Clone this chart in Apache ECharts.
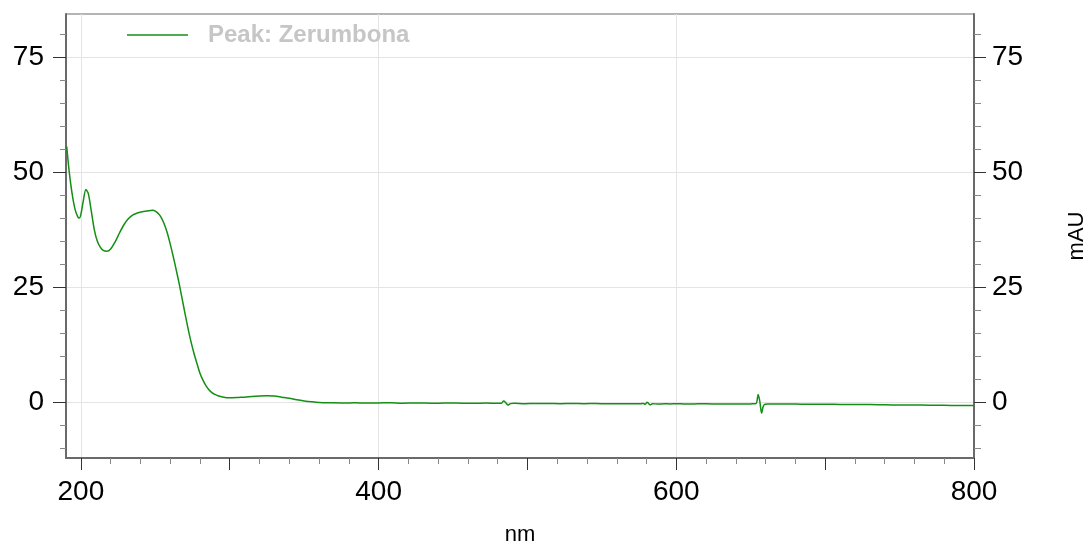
<!DOCTYPE html>
<html>
<head>
<meta charset="utf-8">
<script src="https://cdn.jsdelivr.net/npm/echarts@6/dist/echarts.min.js"></script>
<style>
  html, body { margin: 0; padding: 0; background: #ffffff; }
  #chart { width: 1092px; height: 544px; }
</style>
</head>
<body>
<div id="chart"></div>
<script>
// UV-Vis spectrum of the Zerumbona peak (wavelength in nm, absorbance in mAU)
const wavelengthNm = [
  190.5, 192, 194, 196, 198, 199, 200, 201.5, 203.4, 205, 207, 209, 211, 213, 215, 217.5,
  220, 223, 226, 229, 232, 235, 238, 242, 246, 248.5, 250, 252, 254, 256, 258, 260,
  262, 264, 266, 268, 270, 272, 274, 276, 278, 280, 282, 284, 286, 288, 290, 292, 295,
  298, 302, 306, 310, 315, 320, 325, 330, 335, 340, 345, 350, 355, 360, 368, 376,
  384, 392, 400, 408, 416, 424, 432, 440, 448, 456, 464, 472, 480, 482.5, 484, 485.5,
  487, 488.5, 491, 498, 506, 514, 522, 530, 538, 546, 554, 562, 570, 576, 578, 579,
  580.5, 582.4, 584, 588, 592, 596, 600, 606, 612, 620, 628, 636, 644, 650, 653.5, 655,
  656.2, 657.3, 658.3, 659.5, 662, 670, 680, 690, 700, 710, 720, 730, 740, 750, 760, 770,
  780, 790, 800
];
const absorbanceMau = [
  55.5, 50.5, 45.5, 42.0, 40.2, 40.0, 40.8, 43.5, 46.2, 45.3, 41.5, 37.5, 35.0, 33.7, 33.0, 32.8,
  33.3, 34.8, 36.8, 38.6, 39.9, 40.7, 41.1, 41.4, 41.6, 41.7, 41.5, 41.0, 40.1, 38.7, 36.8, 34.4,
  31.7, 28.8, 25.8, 22.5, 19.2, 16.0, 13.1, 10.6, 8.4, 6.3, 4.8, 3.6, 2.7, 2.1, 1.7, 1.4, 1.15,
  1.0, 1.0, 1.05, 1.1, 1.25, 1.35, 1.4, 1.35, 1.1, 0.85, 0.55, 0.3, 0.1, -0.05, -0.12, -0.15,
  -0.12, -0.18, -0.15, -0.1, -0.2, -0.15, -0.18, -0.22, -0.15, -0.2, -0.22, -0.18, -0.22, -0.2, 0.25, -0.1,
  -0.6, -0.3, -0.22, -0.3, -0.25, -0.28, -0.3, -0.27, -0.3, -0.28, -0.32, -0.3, -0.3, -0.32, -0.25, -0.45,
  0.0, -0.55, -0.3, -0.4, -0.3, -0.35, -0.3, -0.38, -0.35, -0.3, -0.4, -0.35, -0.38, -0.35, -0.3, 1.7,
  0.0, -2.4, -1.0, -0.45, -0.4, -0.38, -0.4, -0.45, -0.42, -0.48, -0.5, -0.5, -0.55, -0.58, -0.6, -0.62,
  -0.65, -0.7, -0.72
];

// Tick positions (nm)
const xLabelTicks = [200, 400, 600, 800];
const xMidTicks = [300, 500, 700];
const xMinorTicks = [220, 240, 260, 280, 320, 340, 360, 380, 420, 440, 460, 480, 520, 540, 560, 580,
  620, 640, 660, 680, 720, 740, 760, 780];
// Tick positions (mAU)
const yLabelTicks = [0, 25, 50, 75];
const yMinorTicks = [-10, -5, 5, 10, 15, 20, 30, 35, 40, 45, 55, 60, 65, 70, 80];

const X_MIN = 190, X_MAX = 800, Y_MIN = -12.1, Y_MAX = 84.3;
const FONT = 'Liberation Sans, Arial, sans-serif';
const AXIS_COLOR = '#6a6a6a';
const GRID_COLOR = '#e4e4e4';
const LINE_COLOR = '#138f13';
const TICK_LABEL_SIZE = 28;
const X_LABEL_MARGIN = 20;
const LONG_TICK = 12;

const points = wavelengthNm.map((w, i) => [w, absorbanceMau[i]]);

function tickStyle(ticks, len, color) {
  return { show: true, customValues: ticks, length: len, lineStyle: { color: color, width: 1 } };
}
function xAxisDef(ticks, len, color, opts) {
  return Object.assign({
    type: 'value', position: 'bottom', min: X_MIN, max: X_MAX,
    axisLine: { show: false, onZero: false },
    axisTick: tickStyle(ticks, len, color),
    axisLabel: { show: false },
    splitLine: { show: false }
  }, opts || {});
}
function yAxisDef(pos, ticks, len, color, opts) {
  return Object.assign({
    type: 'value', position: pos, min: Y_MIN, max: Y_MAX,
    axisLine: { show: false, onZero: false },
    axisTick: tickStyle(ticks, len, color),
    axisLabel: { show: false },
    splitLine: { show: false }
  }, opts || {});
}

const chart = echarts.init(document.getElementById('chart'), null, { renderer: 'canvas' });
chart.setOption({
  animation: false,
  backgroundColor: '#ffffff',
  grid: {
    left: 66, right: 118, top: 14, bottom: 86,
    show: true, borderColor: AXIS_COLOR, borderWidth: 1,
    containLabel: false, outerBoundsMode: 'none'
  },
  legend: {
    data: ['Peak: Zerumbona'],
    left: 127, top: 23, padding: 0,
    icon: 'rect',
    itemWidth: 61, itemHeight: 1.4,
    textStyle: { fontFamily: FONT, fontSize: 24, fontWeight: 'bold', color: '#c6c6c6', padding: [0, 0, 0, 15] }
  },
  xAxis: [
    // main axis: line, vertical grid lines, name
    xAxisDef(xLabelTicks, 0, '#333', {
      axisTick: { show: false, customValues: xLabelTicks },
      axisLine: { show: true, onZero: false, lineStyle: { color: AXIS_COLOR, width: 2 } },
      splitLine: { show: true, lineStyle: { color: GRID_COLOR, width: 1 } },
      name: 'nm', nameLocation: 'middle', nameGap: 66,
      nameTextStyle: { fontFamily: FONT, fontSize: 22, color: '#000' }
    }),
    // long ticks at 300, 500, 700 nm
    xAxisDef(xMidTicks, LONG_TICK, '#333'),
    // short ticks every 20 nm
    xAxisDef(xMinorTicks, 6, '#888'),
    // long ticks at the labelled wavelengths: axis shifted down by the tick length, ticks pointing up
    xAxisDef(xLabelTicks, LONG_TICK, '#333', {
      offset: LONG_TICK,
      axisTick: { show: true, inside: true, customValues: xLabelTicks, length: LONG_TICK, lineStyle: { color: '#333', width: 1 } }
    })
  ],
  yAxis: [
    yAxisDef('left', yLabelTicks, 13, '#333', {
      axisLine: { show: true, onZero: false, lineStyle: { color: AXIS_COLOR, width: 2 } },
      axisLabel: { show: true, customValues: yLabelTicks, fontFamily: FONT, fontSize: TICK_LABEL_SIZE, color: '#000', margin: 22 },
      splitLine: { show: true, lineStyle: { color: GRID_COLOR, width: 1 } }
    }),
    yAxisDef('left', yMinorTicks, 6, '#888'),
    yAxisDef('right', yLabelTicks, 12, '#333', {
      axisLine: { show: true, onZero: false, lineStyle: { color: AXIS_COLOR, width: 2 } },
      axisLabel: { show: true, customValues: yLabelTicks, fontFamily: FONT, fontSize: TICK_LABEL_SIZE, color: '#000', margin: 18 },
      name: 'mAU', nameLocation: 'middle', nameGap: 92, nameRotate: 90,
      nameTextStyle: { fontFamily: FONT, fontSize: 22, color: '#000' }
    }),
    yAxisDef('right', yMinorTicks, 7, '#888')
  ],
  series: [{
    name: 'Peak: Zerumbona',
    type: 'line',
    xAxisIndex: 0, yAxisIndex: 0,
    data: points,
    symbol: 'none',
    smooth: 0.3,
    lineStyle: { color: LINE_COLOR, width: 1.5 },
    itemStyle: { color: LINE_COLOR }
  }]
});

// wavelength tick labels, placed from the axis scale below the bottom axis line
const axisY = chart.convertToPixel({ yAxisIndex: 0 }, Y_MIN);
chart.setOption({
  graphic: xLabelTicks.map(v => ({
    type: 'text',
    x: chart.convertToPixel({ xAxisIndex: 0 }, v),
    y: axisY + X_LABEL_MARGIN,
    silent: true,
    style: {
      text: String(v),
      fontFamily: FONT,
      fontSize: TICK_LABEL_SIZE,
      fill: '#000',
      align: 'center',
      verticalAlign: 'top'
    }
  }))
});
</script>
</body>
</html>
